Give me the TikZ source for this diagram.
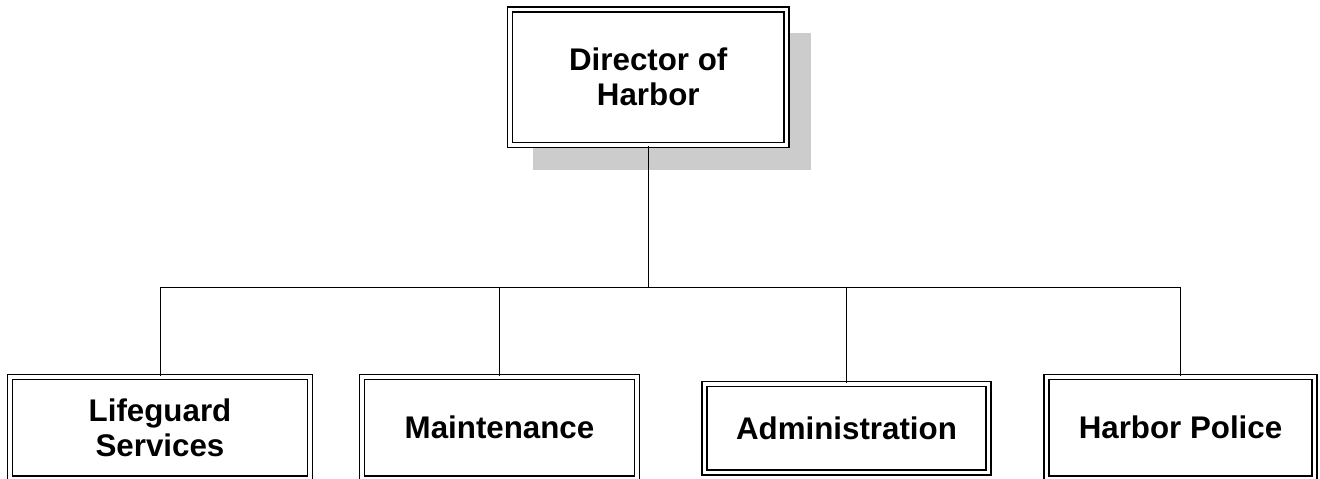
\documentclass[tikz,border=0pt]{standalone}
\usepackage{fontspec}
\setmainfont{Liberation Sans}
\usetikzlibrary{backgrounds}
\definecolor{shadowgray}{RGB}{204,204,204}
\tikzset{
  orgbox/.style={draw=black, fill=white, line width=1.7pt, double=white,
    double distance=3.2pt, rectangle, inner sep=0pt, align=center,
    font=\fontsize{31.3}{35}\selectfont\bfseries},
  link/.style={draw=black, line width=1pt}
}
\begin{document}
\begin{tikzpicture}[x=1pt,y=-1pt]
  \useasboundingbox (0,0) rectangle (1320,479);

  % head of the department
  \node[orgbox, minimum width=276.5pt, minimum height=135.5pt] (dir) at (648.25,77.25) {Director of\\Harbor};

  % divisions
  \node[orgbox, minimum width=300pt, minimum height=101.5pt] (life) at (160,427.75) {Lifeguard\\Services};
  \node[orgbox, minimum width=275pt, minimum height=101.5pt] (maint) at (499.5,427.75) {Maintenance};
  \node[orgbox, minimum width=284pt, minimum height=88.5pt] (admin) at (846.5,428.25) {Administration};
  \node[orgbox, minimum width=268pt, minimum height=101.5pt] (police) at (1180.5,427.75) {Harbor Police};

  % drop shadow behind the head box
  \begin{pgfonlayer}{background}
    \fill[shadowgray] ([shift={(24,24)}]dir.south west) rectangle ([shift={(24,24)}]dir.north east);
  \end{pgfonlayer}

  % connectors
  \coordinate (bus) at (648.25,287);
  \draw[link] (dir.south) -- (bus);
  \draw[link] (life.north) |- (bus);
  \draw[link] (maint.north) |- (bus);
  \draw[link] (admin.north) |- (bus);
  \draw[link] (police.north) |- (bus);
\end{tikzpicture}
\end{document}
